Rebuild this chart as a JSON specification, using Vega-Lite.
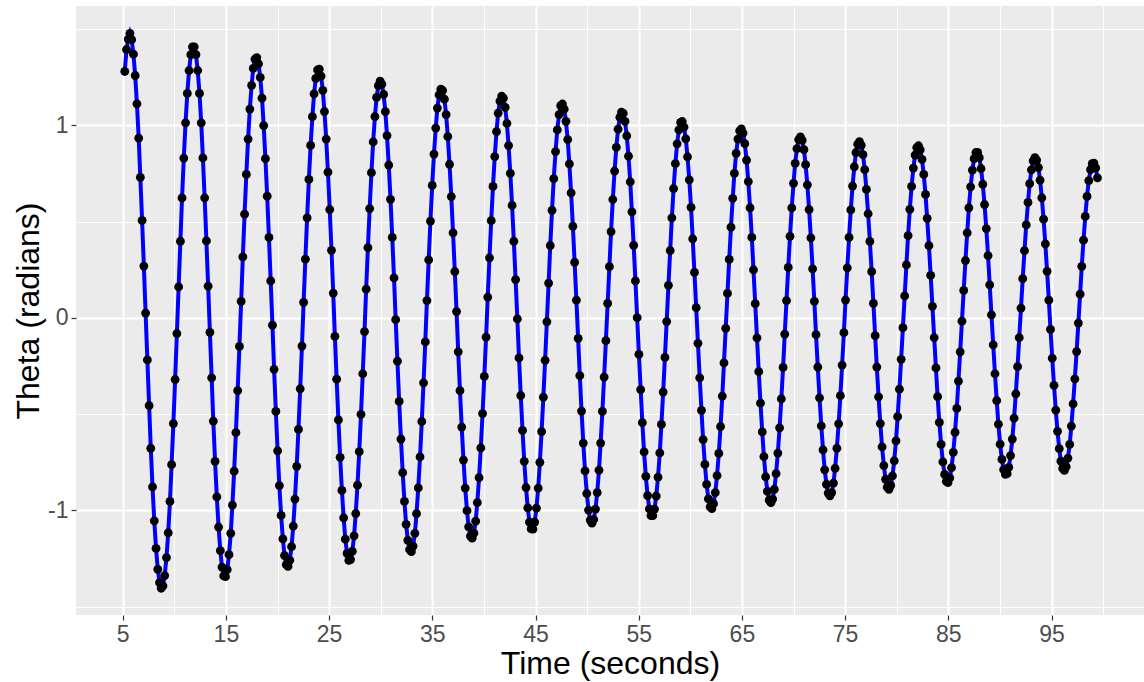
{
"$schema": "https://vega.github.io/schema/vega-lite/v6.json",
"width": 1068, "height": 609,
"autosize": {"type": "none"},
"padding": {"left": 76, "top": 6, "right": 0, "bottom": 67},
"background": "white",
"config": {"view": {"fill": "#EBEBEB", "stroke": null}, "font": "Liberation Sans"},
"data": {"values": [
{"t":5.2,"theta":1.28},{"t":5.37,"theta":1.394},{"t":5.54,"theta":1.448},{"t":5.7,"theta":1.478},{"t":5.87,"theta":1.445},{"t":6.04,"theta":1.37},{"t":6.21,"theta":1.259},{"t":6.38,"theta":1.112},{"t":6.55,"theta":0.934},{"t":6.71,"theta":0.73},
{"t":6.88,"theta":0.506},{"t":7.05,"theta":0.269},{"t":7.22,"theta":0.025},{"t":7.39,"theta":-0.218},{"t":7.56,"theta":-0.455},{"t":7.72,"theta":-0.677},{"t":7.89,"theta":-0.878},{"t":8.06,"theta":-1.054},{"t":8.23,"theta":-1.197},{"t":8.4,"theta":-1.306},
{"t":8.57,"theta":-1.375},{"t":8.73,"theta":-1.404},{"t":8.9,"theta":-1.392},{"t":9.07,"theta":-1.338},{"t":9.24,"theta":-1.245},{"t":9.41,"theta":-1.116},{"t":9.58,"theta":-0.953},{"t":9.74,"theta":-0.762},{"t":9.91,"theta":-0.549},{"t":10.08,"theta":-0.32},
{"t":10.25,"theta":-0.081},{"t":10.42,"theta":0.161},{"t":10.59,"theta":0.398},{"t":10.75,"theta":0.623},{"t":10.92,"theta":0.83},{"t":11.09,"theta":1.013},{"t":11.26,"theta":1.166},{"t":11.43,"theta":1.285},{"t":11.6,"theta":1.367},{"t":11.76,"theta":1.408},
{"t":11.93,"theta":1.408},{"t":12.1,"theta":1.367},{"t":12.27,"theta":1.285},{"t":12.44,"theta":1.166},{"t":12.61,"theta":1.013},{"t":12.77,"theta":0.831},{"t":12.94,"theta":0.624},{"t":13.11,"theta":0.4},{"t":13.28,"theta":0.165},{"t":13.45,"theta":-0.075},
{"t":13.62,"theta":-0.311},{"t":13.78,"theta":-0.536},{"t":13.95,"theta":-0.745},{"t":14.12,"theta":-0.93},{"t":14.29,"theta":-1.086},{"t":14.46,"theta":-1.209},{"t":14.62,"theta":-1.294},{"t":14.79,"theta":-1.34},{"t":14.96,"theta":-1.344},{"t":15.13,"theta":-1.307},
{"t":15.3,"theta":-1.23},{"t":15.47,"theta":-1.119},{"t":15.63,"theta":-0.972},{"t":15.8,"theta":-0.796},{"t":15.97,"theta":-0.596},{"t":16.14,"theta":-0.378},{"t":16.31,"theta":-0.148},{"t":16.48,"theta":0.086},{"t":16.64,"theta":0.317},{"t":16.81,"theta":0.539},
{"t":16.98,"theta":0.745},{"t":17.15,"theta":0.929},{"t":17.32,"theta":1.085},{"t":17.49,"theta":1.208},{"t":17.65,"theta":1.296},{"t":17.82,"theta":1.344},{"t":17.99,"theta":1.352},{"t":18.16,"theta":1.32},{"t":18.33,"theta":1.249},{"t":18.5,"theta":1.141},
{"t":18.66,"theta":0.999},{"t":18.83,"theta":0.827},{"t":19.0,"theta":0.632},{"t":19.17,"theta":0.418},{"t":19.34,"theta":0.192},{"t":19.51,"theta":-0.038},{"t":19.67,"theta":-0.267},{"t":19.84,"theta":-0.486},{"t":20.01,"theta":-0.69},{"t":20.18,"theta":-0.871},
{"t":20.35,"theta":-1.026},{"t":20.52,"theta":-1.148},{"t":20.68,"theta":-1.234},{"t":20.85,"theta":-1.282},{"t":21.02,"theta":-1.29},{"t":21.19,"theta":-1.259},{"t":21.36,"theta":-1.188},{"t":21.53,"theta":-1.081},{"t":21.69,"theta":-0.941},{"t":21.86,"theta":-0.771},
{"t":22.03,"theta":-0.579},{"t":22.2,"theta":-0.368},{"t":22.37,"theta":-0.146},{"t":22.53,"theta":0.081},{"t":22.7,"theta":0.305},{"t":22.87,"theta":0.52},{"t":23.04,"theta":0.719},{"t":23.21,"theta":0.896},{"t":23.38,"theta":1.045},{"t":23.54,"theta":1.163},
{"t":23.71,"theta":1.244},{"t":23.88,"theta":1.288},{"t":24.05,"theta":1.292},{"t":24.22,"theta":1.256},{"t":24.39,"theta":1.182},{"t":24.55,"theta":1.072},{"t":24.72,"theta":0.929},{"t":24.89,"theta":0.757},{"t":25.06,"theta":0.563},{"t":25.23,"theta":0.351},
{"t":25.4,"theta":0.129},{"t":25.56,"theta":-0.096},{"t":25.73,"theta":-0.318},{"t":25.9,"theta":-0.53},{"t":26.07,"theta":-0.724},{"t":26.24,"theta":-0.896},{"t":26.41,"theta":-1.038},{"t":26.57,"theta":-1.149},{"t":26.74,"theta":-1.223},{"t":26.91,"theta":-1.259},
{"t":27.08,"theta":-1.255},{"t":27.25,"theta":-1.212},{"t":27.42,"theta":-1.132},{"t":27.58,"theta":-1.016},{"t":27.75,"theta":-0.869},{"t":27.92,"theta":-0.695},{"t":28.09,"theta":-0.501},{"t":28.26,"theta":-0.29},{"t":28.43,"theta":-0.071},{"t":28.59,"theta":0.149},
{"t":28.76,"theta":0.365},{"t":28.93,"theta":0.568},{"t":29.1,"theta":0.754},{"t":29.27,"theta":0.914},{"t":29.44,"theta":1.046},{"t":29.6,"theta":1.145},{"t":29.77,"theta":1.206},{"t":29.94,"theta":1.23},{"t":30.11,"theta":1.214},{"t":30.28,"theta":1.161},
{"t":30.45,"theta":1.071},{"t":30.61,"theta":0.947},{"t":30.78,"theta":0.794},{"t":30.95,"theta":0.616},{"t":31.12,"theta":0.418},{"t":31.29,"theta":0.208},{"t":31.45,"theta":-0.009},{"t":31.62,"theta":-0.225},{"t":31.79,"theta":-0.434},{"t":31.96,"theta":-0.629},
{"t":32.13,"theta":-0.804},{"t":32.3,"theta":-0.953},{"t":32.46,"theta":-1.072},{"t":32.63,"theta":-1.156},{"t":32.8,"theta":-1.204},{"t":32.97,"theta":-1.214},{"t":33.14,"theta":-1.185},{"t":33.31,"theta":-1.119},{"t":33.47,"theta":-1.017},{"t":33.64,"theta":-0.883},
{"t":33.81,"theta":-0.722},{"t":33.98,"theta":-0.538},{"t":34.15,"theta":-0.337},{"t":34.32,"theta":-0.125},{"t":34.48,"theta":0.09},{"t":34.65,"theta":0.301},{"t":34.82,"theta":0.503},{"t":34.99,"theta":0.688},{"t":35.16,"theta":0.851},{"t":35.33,"theta":0.986},
{"t":35.49,"theta":1.09},{"t":35.66,"theta":1.158},{"t":35.83,"theta":1.188},{"t":36.0,"theta":1.181},{"t":36.17,"theta":1.136},{"t":36.34,"theta":1.056},{"t":36.5,"theta":0.942},{"t":36.67,"theta":0.798},{"t":36.84,"theta":0.63},{"t":37.01,"theta":0.442},
{"t":37.18,"theta":0.241},{"t":37.35,"theta":0.033},{"t":37.51,"theta":-0.176},{"t":37.68,"theta":-0.378},{"t":37.85,"theta":-0.567},{"t":38.02,"theta":-0.738},{"t":38.19,"theta":-0.884},{"t":38.36,"theta":-1.001},{"t":38.52,"theta":-1.085},{"t":38.69,"theta":-1.133},
{"t":38.86,"theta":-1.144},{"t":39.03,"theta":-1.118},{"t":39.2,"theta":-1.056},{"t":39.36,"theta":-0.959},{"t":39.53,"theta":-0.83},{"t":39.7,"theta":-0.675},{"t":39.87,"theta":-0.497},{"t":40.04,"theta":-0.304},{"t":40.21,"theta":-0.1},{"t":40.37,"theta":0.108},
{"t":40.54,"theta":0.312},{"t":40.71,"theta":0.505},{"t":40.88,"theta":0.683},{"t":41.05,"theta":0.838},{"t":41.22,"theta":0.967},{"t":41.38,"theta":1.064},{"t":41.55,"theta":1.126},{"t":41.72,"theta":1.152},{"t":41.89,"theta":1.141},{"t":42.06,"theta":1.093},
{"t":42.23,"theta":1.01},{"t":42.39,"theta":0.895},{"t":42.56,"theta":0.751},{"t":42.73,"theta":0.584},{"t":42.9,"theta":0.398},{"t":43.07,"theta":0.199},{"t":43.24,"theta":-0.005},{"t":43.4,"theta":-0.208},{"t":43.57,"theta":-0.403},{"t":43.74,"theta":-0.584},
{"t":43.91,"theta":-0.745},{"t":44.08,"theta":-0.881},{"t":44.25,"theta":-0.987},{"t":44.41,"theta":-1.06},{"t":44.58,"theta":-1.096},{"t":44.75,"theta":-1.097},{"t":44.92,"theta":-1.06},{"t":45.09,"theta":-0.988},{"t":45.26,"theta":-0.884},{"t":45.42,"theta":-0.75},
{"t":45.59,"theta":-0.591},{"t":45.76,"theta":-0.412},{"t":45.93,"theta":-0.22},{"t":46.1,"theta":-0.02},{"t":46.27,"theta":0.181},{"t":46.43,"theta":0.376},{"t":46.6,"theta":0.559},{"t":46.77,"theta":0.723},{"t":46.94,"theta":0.864},{"t":47.11,"theta":0.976},
{"t":47.28,"theta":1.056},{"t":47.44,"theta":1.102},{"t":47.61,"theta":1.111},{"t":47.78,"theta":1.084},{"t":47.95,"theta":1.021},{"t":48.12,"theta":0.926},{"t":48.28,"theta":0.8},{"t":48.45,"theta":0.649},{"t":48.62,"theta":0.476},{"t":48.79,"theta":0.289},
{"t":48.96,"theta":0.092},{"t":49.13,"theta":-0.106},{"t":49.29,"theta":-0.3},{"t":49.46,"theta":-0.484},{"t":49.63,"theta":-0.65},{"t":49.8,"theta":-0.795},{"t":49.97,"theta":-0.912},{"t":50.14,"theta":-0.998},{"t":50.3,"theta":-1.05},{"t":50.47,"theta":-1.066},
{"t":50.64,"theta":-1.047},{"t":50.81,"theta":-0.993},{"t":50.98,"theta":-0.907},{"t":51.15,"theta":-0.791},{"t":51.31,"theta":-0.65},{"t":51.48,"theta":-0.486},{"t":51.65,"theta":-0.307},{"t":51.82,"theta":-0.118},{"t":51.99,"theta":0.075},{"t":52.16,"theta":0.266},
{"t":52.32,"theta":0.448},{"t":52.49,"theta":0.615},{"t":52.66,"theta":0.763},{"t":52.83,"theta":0.886},{"t":53.0,"theta":0.98},{"t":53.17,"theta":1.042},{"t":53.33,"theta":1.069},{"t":53.5,"theta":1.062},{"t":53.67,"theta":1.021},{"t":53.84,"theta":0.946},
{"t":54.01,"theta":0.84},{"t":54.18,"theta":0.707},{"t":54.34,"theta":0.551},{"t":54.51,"theta":0.377},{"t":54.68,"theta":0.192},{"t":54.85,"theta":0.001},{"t":55.02,"theta":-0.19},{"t":55.19,"theta":-0.373},{"t":55.35,"theta":-0.544},{"t":55.52,"theta":-0.696},
{"t":55.69,"theta":-0.823},{"t":55.86,"theta":-0.923},{"t":56.03,"theta":-0.992},{"t":56.19,"theta":-1.027},{"t":56.36,"theta":-1.027},{"t":56.53,"theta":-0.993},{"t":56.7,"theta":-0.925},{"t":56.87,"theta":-0.827},{"t":57.04,"theta":-0.701},{"t":57.2,"theta":-0.553},
{"t":57.37,"theta":-0.385},{"t":57.54,"theta":-0.205},{"t":57.71,"theta":-0.019},{"t":57.88,"theta":0.169},{"t":58.05,"theta":0.35},{"t":58.21,"theta":0.52},{"t":58.38,"theta":0.672},{"t":58.55,"theta":0.801},{"t":58.72,"theta":0.904},{"t":58.89,"theta":0.976},
{"t":59.06,"theta":1.015},{"t":59.22,"theta":1.02},{"t":59.39,"theta":0.991},{"t":59.56,"theta":0.93},{"t":59.73,"theta":0.837},{"t":59.9,"theta":0.717},{"t":60.07,"theta":0.574},{"t":60.23,"theta":0.411},{"t":60.4,"theta":0.236},{"t":60.57,"theta":0.053},
{"t":60.74,"theta":-0.132},{"t":60.91,"theta":-0.311},{"t":61.08,"theta":-0.48},{"t":61.24,"theta":-0.632},{"t":61.41,"theta":-0.761},{"t":61.58,"theta":-0.865},{"t":61.75,"theta":-0.94},{"t":61.92,"theta":-0.981},{"t":62.09,"theta":-0.99},{"t":62.25,"theta":-0.965},
{"t":62.42,"theta":-0.907},{"t":62.59,"theta":-0.819},{"t":62.76,"theta":-0.704},{"t":62.93,"theta":-0.564},{"t":63.1,"theta":-0.406},{"t":63.26,"theta":-0.234},{"t":63.43,"theta":-0.054},{"t":63.6,"theta":0.127},{"t":63.77,"theta":0.304},{"t":63.94,"theta":0.471},
{"t":64.11,"theta":0.621},{"t":64.27,"theta":0.751},{"t":64.44,"theta":0.855},{"t":64.61,"theta":0.929},{"t":64.78,"theta":0.972},{"t":64.95,"theta":0.982},{"t":65.11,"theta":0.96},{"t":65.28,"theta":0.905},{"t":65.45,"theta":0.82},{"t":65.62,"theta":0.708},
{"t":65.79,"theta":0.572},{"t":65.96,"theta":0.418},{"t":66.12,"theta":0.25},{"t":66.29,"theta":0.074},{"t":66.46,"theta":-0.104},{"t":66.63,"theta":-0.279},{"t":66.8,"theta":-0.443},{"t":66.97,"theta":-0.592},{"t":67.13,"theta":-0.721},{"t":67.3,"theta":-0.825},
{"t":67.47,"theta":-0.901},{"t":67.64,"theta":-0.947},{"t":67.81,"theta":-0.96},{"t":67.98,"theta":-0.941},{"t":68.14,"theta":-0.89},{"t":68.31,"theta":-0.809},{"t":68.48,"theta":-0.702},{"t":68.65,"theta":-0.571},{"t":68.82,"theta":-0.421},{"t":68.99,"theta":-0.257},
{"t":69.15,"theta":-0.084},{"t":69.32,"theta":0.09},{"t":69.49,"theta":0.262},{"t":69.66,"theta":0.424},{"t":69.83,"theta":0.571},{"t":70.0,"theta":0.699},{"t":70.16,"theta":0.803},{"t":70.33,"theta":0.879},{"t":70.5,"theta":0.926},{"t":70.67,"theta":0.94},
{"t":70.84,"theta":0.922},{"t":71.01,"theta":0.874},{"t":71.17,"theta":0.796},{"t":71.34,"theta":0.691},{"t":71.51,"theta":0.563},{"t":71.68,"theta":0.416},{"t":71.85,"theta":0.255},{"t":72.02,"theta":0.086},{"t":72.18,"theta":-0.087},{"t":72.35,"theta":-0.255},
{"t":72.52,"theta":-0.415},{"t":72.69,"theta":-0.561},{"t":72.86,"theta":-0.686},{"t":73.02,"theta":-0.789},{"t":73.19,"theta":-0.864},{"t":73.36,"theta":-0.91},{"t":73.53,"theta":-0.924},{"t":73.7,"theta":-0.907},{"t":73.87,"theta":-0.858},{"t":74.03,"theta":-0.781},
{"t":74.2,"theta":-0.677},{"t":74.37,"theta":-0.55},{"t":74.54,"theta":-0.404},{"t":74.71,"theta":-0.245},{"t":74.88,"theta":-0.077},{"t":75.04,"theta":0.093},{"t":75.21,"theta":0.26},{"t":75.38,"theta":0.418},{"t":75.55,"theta":0.561},{"t":75.72,"theta":0.685},
{"t":75.89,"theta":0.785},{"t":76.05,"theta":0.859},{"t":76.22,"theta":0.902},{"t":76.39,"theta":0.915},{"t":76.56,"theta":0.896},{"t":76.73,"theta":0.848},{"t":76.9,"theta":0.77},{"t":77.06,"theta":0.667},{"t":77.23,"theta":0.541},{"t":77.4,"theta":0.397},
{"t":77.57,"theta":0.24},{"t":77.74,"theta":0.075},{"t":77.91,"theta":-0.092},{"t":78.07,"theta":-0.255},{"t":78.24,"theta":-0.41},{"t":78.41,"theta":-0.549},{"t":78.58,"theta":-0.67},{"t":78.75,"theta":-0.767},{"t":78.92,"theta":-0.838},{"t":79.08,"theta":-0.879},
{"t":79.25,"theta":-0.89},{"t":79.42,"theta":-0.87},{"t":79.59,"theta":-0.82},{"t":79.76,"theta":-0.742},{"t":79.93,"theta":-0.639},{"t":80.09,"theta":-0.513},{"t":80.26,"theta":-0.37},{"t":80.43,"theta":-0.215},{"t":80.6,"theta":-0.051},{"t":80.77,"theta":0.114},
{"t":80.94,"theta":0.275},{"t":81.1,"theta":0.427},{"t":81.27,"theta":0.564},{"t":81.44,"theta":0.683},{"t":81.61,"theta":0.778},{"t":81.78,"theta":0.846},{"t":81.94,"theta":0.885},{"t":82.11,"theta":0.894},{"t":82.28,"theta":0.873},{"t":82.45,"theta":0.823},
{"t":82.62,"theta":0.745},{"t":82.79,"theta":0.641},{"t":82.95,"theta":0.517},{"t":83.12,"theta":0.375},{"t":83.29,"theta":0.221},{"t":83.46,"theta":0.06},{"t":83.63,"theta":-0.102},{"t":83.8,"theta":-0.26},{"t":83.96,"theta":-0.409},{"t":84.13,"theta":-0.543},
{"t":84.3,"theta":-0.657},{"t":84.47,"theta":-0.748},{"t":84.64,"theta":-0.813},{"t":84.81,"theta":-0.849},{"t":84.97,"theta":-0.855},{"t":85.14,"theta":-0.831},{"t":85.31,"theta":-0.778},{"t":85.48,"theta":-0.698},{"t":85.65,"theta":-0.594},{"t":85.82,"theta":-0.47},
{"t":85.98,"theta":-0.328},{"t":86.15,"theta":-0.176},{"t":86.32,"theta":-0.017},{"t":86.49,"theta":0.143},{"t":86.66,"theta":0.298},{"t":86.83,"theta":0.442},{"t":86.99,"theta":0.572},{"t":87.16,"theta":0.681},{"t":87.33,"theta":0.768},{"t":87.5,"theta":0.827},
{"t":87.67,"theta":0.859},{"t":87.84,"theta":0.86},{"t":88.0,"theta":0.832},{"t":88.17,"theta":0.776},{"t":88.34,"theta":0.694},{"t":88.51,"theta":0.589},{"t":88.68,"theta":0.464},{"t":88.85,"theta":0.323},{"t":89.01,"theta":0.172},{"t":89.18,"theta":0.016},
{"t":89.35,"theta":-0.14},{"t":89.52,"theta":-0.29},{"t":89.69,"theta":-0.429},{"t":89.85,"theta":-0.552},{"t":90.02,"theta":-0.656},{"t":90.19,"theta":-0.735},{"t":90.36,"theta":-0.788},{"t":90.53,"theta":-0.813},{"t":90.7,"theta":-0.809},{"t":90.86,"theta":-0.776},
{"t":91.03,"theta":-0.715},{"t":91.2,"theta":-0.629},{"t":91.37,"theta":-0.521},{"t":91.54,"theta":-0.394},{"t":91.71,"theta":-0.253},{"t":91.87,"theta":-0.103},{"t":92.04,"theta":0.051},{"t":92.21,"theta":0.204},{"t":92.38,"theta":0.349},{"t":92.55,"theta":0.483},
{"t":92.72,"theta":0.6},{"t":92.88,"theta":0.697},{"t":93.05,"theta":0.769},{"t":93.22,"theta":0.815},{"t":93.39,"theta":0.832},{"t":93.56,"theta":0.82},{"t":93.73,"theta":0.781},{"t":93.89,"theta":0.715},{"t":94.06,"theta":0.624},{"t":94.23,"theta":0.513},
{"t":94.4,"theta":0.384},{"t":94.57,"theta":0.242},{"t":94.74,"theta":0.092},{"t":94.9,"theta":-0.06},{"t":95.07,"theta":-0.209},{"t":95.24,"theta":-0.35},{"t":95.41,"theta":-0.479},{"t":95.58,"theta":-0.589},{"t":95.75,"theta":-0.679},{"t":95.91,"theta":-0.744},
{"t":96.08,"theta":-0.782},{"t":96.25,"theta":-0.792},{"t":96.42,"theta":-0.773},{"t":96.59,"theta":-0.728},{"t":96.76,"theta":-0.657},{"t":96.92,"theta":-0.562},{"t":97.09,"theta":-0.447},{"t":97.26,"theta":-0.317},{"t":97.43,"theta":-0.175},{"t":97.6,"theta":-0.027},
{"t":97.77,"theta":0.123},{"t":97.93,"theta":0.268},{"t":98.1,"theta":0.404},{"t":98.27,"theta":0.527},{"t":98.44,"theta":0.631},{"t":98.61,"theta":0.713},{"t":98.78,"theta":0.77},{"t":98.94,"theta":0.801},{"t":99.11,"theta":0.804},{"t":99.28,"theta":0.779},
{"t":99.45,"theta":0.727}
]},
"layer": [
{
"mark": {"type": "line", "color": "#0000FF", "strokeWidth": 4},
"encoding": {
"x": {"field": "t", "type": "quantitative", "scale": {"domain": [0.475, 103.96], "nice": false, "zero": false},
 "axis": {"values": [5,15,25,35,45,55,65,75,85,95], "labelExpr": "'' + datum.value", "grid": true, "gridColor": "#FFFFFF", "gridWidth": 2, "domain": false, "ticks": true, "tickSize": 5, "tickColor": "#333333", "tickWidth": 1.2, "labelFont": "Liberation Sans", "labelFontSize": 23, "labelColor": "#4D4D4D", "labelPadding": 3, "title": "Time (seconds)", "titleFont": "Liberation Sans", "titleFontSize": 32, "titleFontWeight": "normal", "titleColor": "#000000", "titlePadding": 2}},
"y": {"field": "theta", "type": "quantitative", "scale": {"domain": [-1.543, 1.62], "nice": false, "zero": false},
 "axis": {"values": [-1,0,1], "labelExpr": "'' + datum.value", "grid": true, "gridColor": "#FFFFFF", "gridWidth": 2, "domain": false, "ticks": true, "tickSize": 5, "tickColor": "#333333", "tickWidth": 1.2, "labelFont": "Liberation Sans", "labelFontSize": 23, "labelColor": "#4D4D4D", "labelPadding": 3, "title": "Theta (radians)", "titleFont": "Liberation Sans", "titleFontSize": 32, "titleFontWeight": "normal", "titleColor": "#000000", "titlePadding": 2}}
}
},
{
"mark": {"type": "point", "filled": true, "color": "#000000", "size": 78, "opacity": 1},
"encoding": {
"x": {"field": "t", "type": "quantitative", "scale": {"domain": [0.475, 103.96], "nice": false, "zero": false},
 "axis": {"values": [0,10,20,30,40,50,60,70,80,90,100], "grid": true, "gridColor": "#FFFFFF", "gridWidth": 1, "domain": false, "ticks": false, "labels": false, "title": null}},
"y": {"field": "theta", "type": "quantitative", "scale": {"domain": [-1.543, 1.62], "nice": false, "zero": false},
 "axis": {"values": [-1.5,-0.5,0.5,1.5], "grid": true, "gridColor": "#FFFFFF", "gridWidth": 1, "domain": false, "ticks": false, "labels": false, "title": null}}
}
}
],
"resolve": {"scale": {"x": "independent", "y": "independent"}, "axis": {"x": "independent", "y": "independent"}}
}
